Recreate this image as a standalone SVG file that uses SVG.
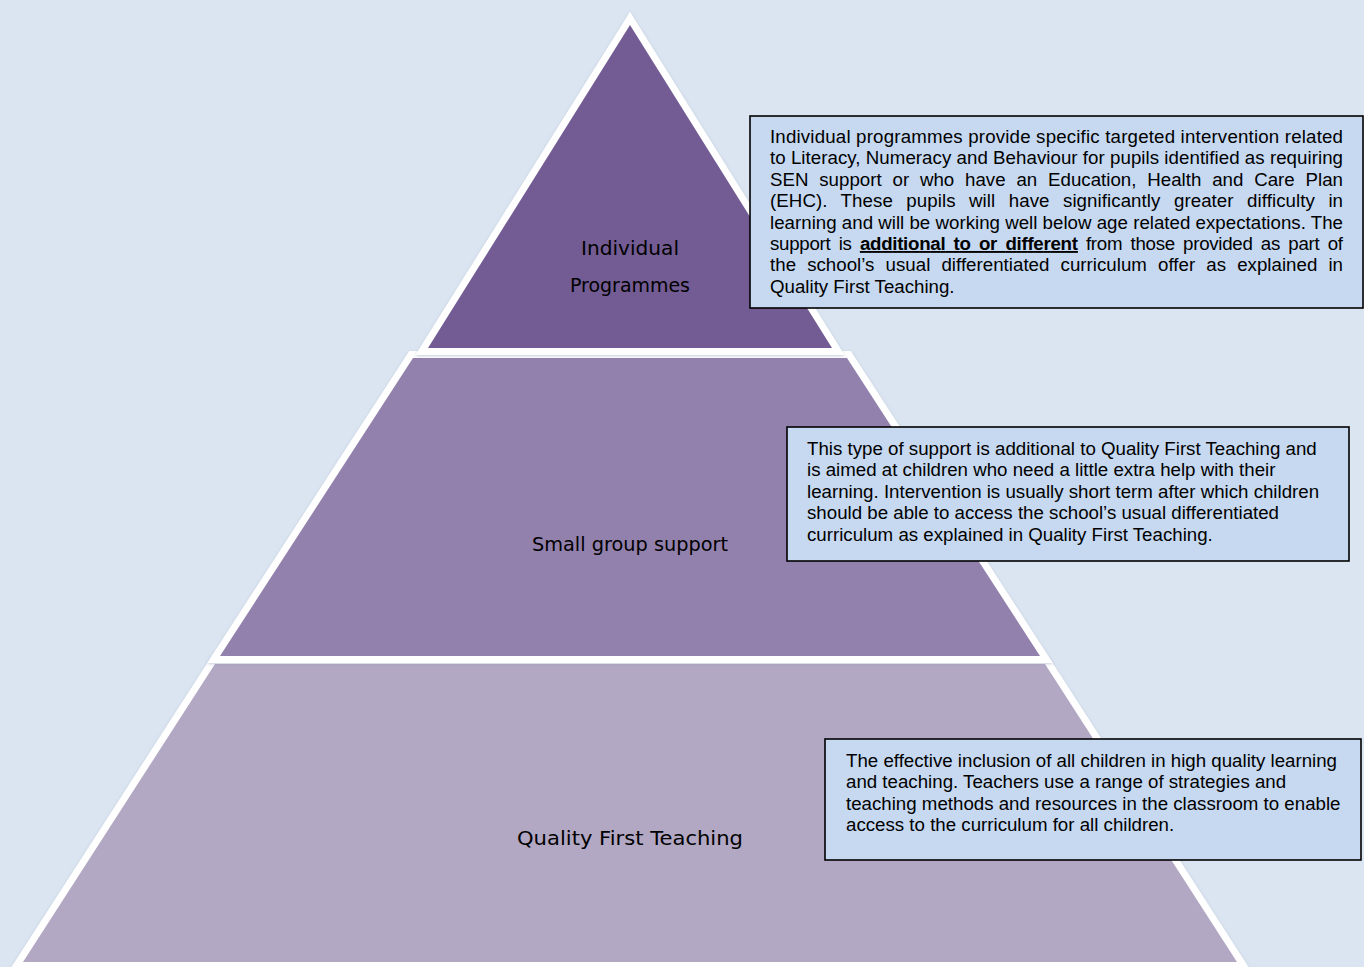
<svg xmlns="http://www.w3.org/2000/svg" width="1364" height="967" viewBox="0 0 1364 967">
<style>
.tier{stroke:#ffffff;stroke-width:14;stroke-linejoin:miter;stroke-miterlimit:10;paint-order:stroke;filter:url(#sh)}
.lbl{font-family:"Comic Sans MS","DejaVu Sans",sans-serif;font-size:20px;fill:#000;text-anchor:middle}
.box{fill:#c6d9f1;stroke:#000;stroke-width:1.6}
.txt{font-family:"Liberation Sans",Arial,sans-serif;font-size:18.7px;fill:#000}
</style>
<defs>
<filter id="sh" x="-5%" y="-5%" width="110%" height="110%">
<feDropShadow dx="0" dy="1" stdDeviation="1.5" flood-color="#8a9ab5" flood-opacity="0.5"/>
</filter>
</defs>
<rect x="0" y="0" width="1364" height="967" fill="#dbe5f1"/>
<g id="tier3">
<polygon class="tier" points="215,664 1045,664 1237,962 23,962" fill="#b2a8c4"/>
<text class="lbl" x="630" y="845" textLength="226" lengthAdjust="spacingAndGlyphs">Quality First Teaching</text>
</g>
<g id="tier2">
<polygon class="tier" points="413,358 847,358 1040,656 220,656" fill="#9381ad"/>
<text class="lbl" x="630" y="551" textLength="196" lengthAdjust="spacingAndGlyphs">Small group support</text>
</g>
<g id="tier1">
<polygon class="tier" points="630,25 832,348 428,348" fill="#735b93"/>
<text class="lbl" x="630" y="255" textLength="98" lengthAdjust="spacingAndGlyphs">Individual</text>
<text class="lbl" x="630" y="292" textLength="120" lengthAdjust="spacingAndGlyphs">Programmes</text>
</g>
<g id="box1">
<rect class="box" x="750" y="116" width="613" height="192"/>
<text class="txt" x="770" y="143" textLength="573" lengthAdjust="spacing">Individual programmes provide specific targeted intervention related</text>
<text class="txt" x="770" y="164.4" textLength="573" lengthAdjust="spacing">to Literacy, Numeracy and Behaviour for pupils identified as requiring</text>
<text class="txt" x="770" y="185.8" word-spacing="5.6" textLength="573" lengthAdjust="spacing">SEN support or who have an Education, Health and Care Plan</text>
<text class="txt" x="770" y="207.2" word-spacing="8.2" textLength="573" lengthAdjust="spacing">(EHC). These pupils will have significantly greater difficulty in</text>
<text class="txt" x="770" y="228.6" textLength="573" lengthAdjust="spacing">learning and will be working well below age related expectations. The</text>
<text class="txt" x="770" y="250" word-spacing="3.4" textLength="573" lengthAdjust="spacing">support is <tspan font-weight="bold" text-decoration="underline">additional to or different</tspan> from those provided as part of</text>
<text class="txt" x="770" y="271.4" word-spacing="5.9" textLength="573" lengthAdjust="spacing">the school’s usual differentiated curriculum offer as explained in</text>
<text class="txt" x="770" y="292.8">Quality First Teaching.</text>
</g>
<g id="box2">
<rect class="box" x="787" y="427" width="562" height="134"/>
<text class="txt" x="807" y="455">This type of support is additional to Quality First Teaching and</text>
<text class="txt" x="807" y="476.4">is aimed at children who need a little extra help with their</text>
<text class="txt" x="807" y="497.8">learning. Intervention is usually short term after which children</text>
<text class="txt" x="807" y="519.2">should be able to access the school’s usual differentiated</text>
<text class="txt" x="807" y="540.6">curriculum as explained in Quality First Teaching.</text>
</g>
<g id="box3">
<rect class="box" x="825" y="739" width="536" height="121"/>
<text class="txt" x="846" y="767">The effective inclusion of all children in high quality learning</text>
<text class="txt" x="846" y="788.4">and teaching. Teachers use a range of strategies and</text>
<text class="txt" x="846" y="809.8">teaching methods and resources in the classroom to enable</text>
<text class="txt" x="846" y="831.2">access to the curriculum for all children.</text>
</g>
<g id="connectors"></g>
</svg>
